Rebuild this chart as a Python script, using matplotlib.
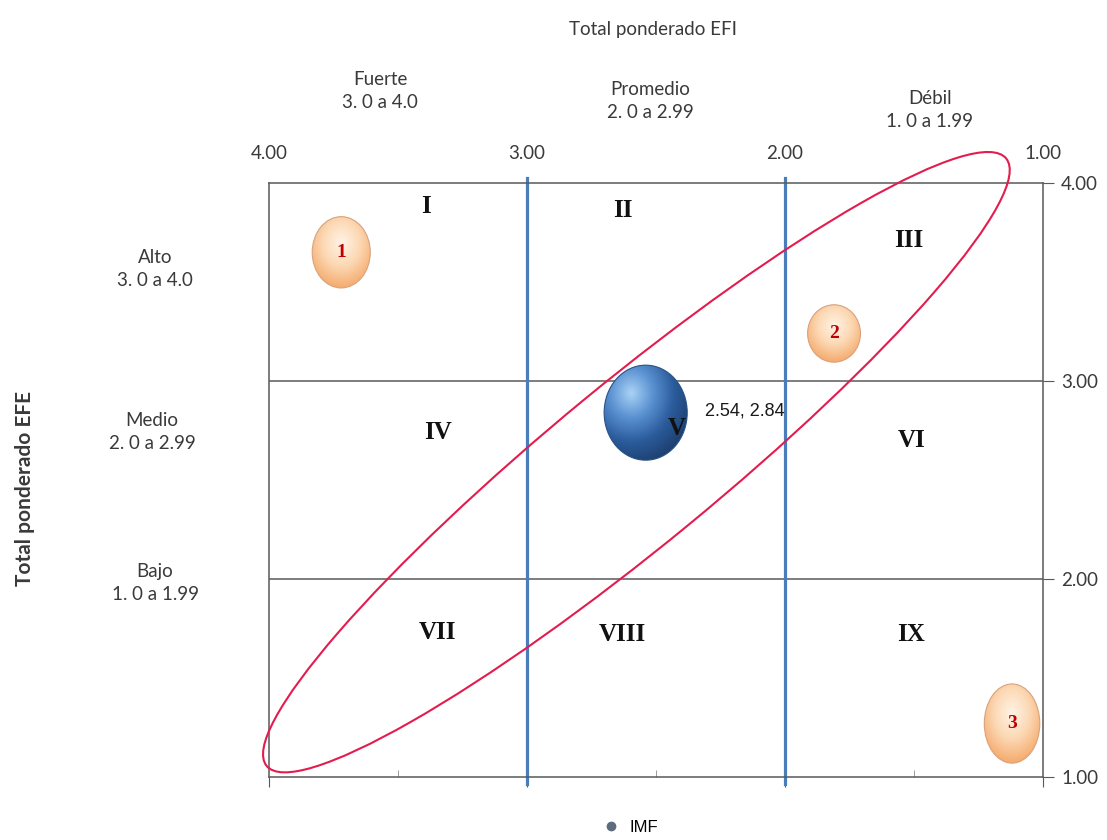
import numpy as np
import matplotlib
matplotlib.use("Agg")
import matplotlib.pyplot as plt
import matplotlib.transforms as mtransforms
from matplotlib.patches import Ellipse
from matplotlib.lines import Line2D
from matplotlib.colors import LinearSegmentedColormap
from matplotlib.ticker import MultipleLocator

# posición de la empresa (EFI, EFE)
imf_x = [2.54]
imf_y = [2.84]
imf_label = "IMF"

# puntos de referencia numerados
ref_labels = ["1", "2", "3"]
ref_x = [3.72, 1.81, 1.12]
ref_y = [3.65, 3.24, 1.27]

# cuadrantes
cuadrantes = ["I", "II", "III", "IV", "V", "VI", "VII", "VIII", "IX"]
cuad_x = [3.39, 2.63, 1.52, 3.345, 2.42, 1.51, 3.345, 2.63, 1.51]
cuad_y = [3.88, 3.86, 3.71, 2.74, 2.76, 2.70, 1.73, 1.72, 1.72]

ticks = [4.0, 3.0, 2.0, 1.0]
niveles_efi = ["Fuerte\n3. 0 a 4.0", "Promedio\n2. 0 a 2.99", "Débil\n1. 0 a 1.99"]
niveles_efe = ["Alto\n3. 0 a 4.0", "Medio\n2. 0 a 2.99", "Bajo\n1. 0 a 1.99"]

SANS = "Lato"
SERIF = "Liberation Serif"
FS = 13.5
GRIS = "#3a3a3a"

fig = plt.figure(figsize=(11.07, 8.4), dpi=100)
ax = fig.add_axes([269 / 1107, 1 - 777 / 840, (1043 - 269) / 1107, (777 - 183) / 840])
ax.set_xlim(4, 1)
ax.set_ylim(1, 4)


def burbuja(x, y, w, h, colores, foco, borde, z):
    e = Ellipse((x, y), w, h, facecolor="none", edgecolor=borde, lw=0.8, zorder=z + 0.1)
    ax.add_patch(e)
    n = 200
    gx, gy = np.meshgrid(np.linspace(-1, 1, n), np.linspace(-1, 1, n))
    r = np.clip(np.hypot(gx - foco[0], gy - foco[1]) / (1.0 + np.hypot(*foco)), 0, 1)
    cmap = LinearSegmentedColormap.from_list("b", colores)
    # eje x invertido: la columna 0 queda a la izquierda en pantalla
    im = ax.imshow(r, cmap=cmap, extent=[x + w / 2, x - w / 2, y - h / 2, y + h / 2],
                   origin="lower", aspect="auto", zorder=z, interpolation="bilinear")
    im.set_clip_path(e)


# líneas divisorias
for v in [3.0, 2.0]:
    ax.axvline(v, ymin=-0.012, ymax=1.008, color="#4a7ebb", lw=2.3, zorder=2, clip_on=False)
    ax.axhline(v, color="#5a5a5a", lw=1.1, zorder=1)

# elipse diagonal
cx, cy = 2.576, 2.59
elipse = Ellipse((0, 0), 957, 163, angle=39.4, facecolor="none", edgecolor="#e31c4f",
                 lw=1.5, zorder=4, clip_on=False,
                 transform=mtransforms.ScaledTranslation(cx, cy, ax.transData))
ax.add_patch(elipse)

# burbujas de referencia
tam_ref = [(0.225, 0.36), (0.205, 0.29), (0.215, 0.40)]
for lab, x, y, (w, h) in zip(ref_labels, ref_x, ref_y, tam_ref):
    burbuja(x, y, w, h, ["#fff3e6", "#fcd9b5", "#f5ab6e"], (0.0, 0.25), "#d9a27c", 3)
    ax.text(x, y, lab, ha="center", va="center", color="#c00000", fontsize=14,
            fontweight="bold", family=SERIF, zorder=5)

# burbuja IMF
for x, y in zip(imf_x, imf_y):
    burbuja(x, y, 0.322, 0.48, ["#a9d2f5", "#5b92d2", "#2b5c9c", "#1d3f6e"],
            (-0.35, 0.4), "#2a5286", 6)
    ax.text(x - 0.23, y + 0.01, f"{x:.2f}, {y:.2f}", ha="left", va="center",
            fontsize=13, family="Liberation Sans", color="#1a1a1a", zorder=8)

for lab, x, y in zip(cuadrantes, cuad_x, cuad_y):
    ax.text(x, y, lab, ha="center", va="center", fontsize=18, fontweight="bold",
            family=SERIF, color="#111111", zorder=7)

# ejes
for s in ax.spines.values():
    s.set_color("#595959")
    s.set_linewidth(1.1)

ax.set_xticks(ticks)
ax.set_xticklabels([f"{t:.2f}" for t in ticks], family=SANS, fontsize=FS, color=GRIS)
ax.tick_params(axis="x", which="major", bottom=True, top=False, labelbottom=False,
               labeltop=True, direction="out", length=7, color="#595959", pad=8)
ax.xaxis.set_minor_locator(MultipleLocator(0.5))
ax.tick_params(axis="x", which="minor", bottom=True, top=False, direction="in",
               length=5, color="#8a8a8a")

ax.set_yticks(ticks)
ax.set_yticklabels([f"{t:.2f}" for t in ticks], family=SANS, fontsize=FS, color=GRIS)
ax.tick_params(axis="y", left=False, right=True, labelleft=False, labelright=True,
               direction="out", length=8, color="#595959", pad=5)

# títulos y rangos
fig.text(653 / 1107, 1 - 30 / 840, "Total ponderado EFI", ha="center", va="center",
         family=SANS, fontsize=FS, color=GRIS)
for txt, px, py in zip(niveles_efi, [380, 650, 930], [91, 101, 110]):
    fig.text(px / 1107, 1 - py / 840, txt, ha="center", va="center", family=SANS,
             fontsize=FS, color=GRIS, linespacing=1.45)
for txt, px, py in zip(niveles_efe, [155, 152, 155], [269, 432, 583]):
    fig.text(px / 1107, 1 - py / 840, txt, ha="center", va="center", family=SANS,
             fontsize=FS, color=GRIS, linespacing=1.45)
fig.text(25 / 1107, 1 - 488 / 840, "Total ponderado EFE", ha="center", va="center",
         rotation=90, family=SANS, fontsize=15, fontweight="bold", color=GRIS)

leyenda = [Line2D([], [], marker="o", ls="none", color="#5d6b7d", markersize=6, label=imf_label)]
fig.legend(handles=leyenda, loc="center", bbox_to_anchor=(626 / 1107, 1 - 827 / 840),
           frameon=False, handletextpad=0.1, prop={"family": "Liberation Sans", "size": 12})

fig.savefig("out.png", dpi=100)
